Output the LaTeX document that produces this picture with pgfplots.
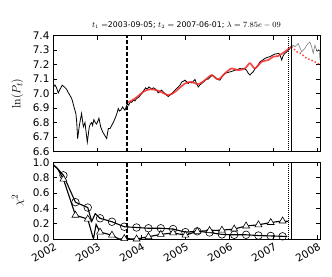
\documentclass[border=0pt]{standalone}
\usepackage[no-math]{fontspec}
\setmainfont{DejaVu Sans}
\usepackage{pgfplots}
\pgfplotsset{compat=1.18}
\definecolor{fitred}{RGB}{245,40,40}
\pgfplotsset{
  mystyle/.style={
    scale only axis, width=267bp,
    xmin=2002, xmax=2008.07,
    xtick={2002,2003,2004,2005,2006,2007,2008},
    tick align=inside, major tick length=4bp,
    axis line style={line width=0.8bp},
    every tick/.style={black, line width=0.6bp},
    tick label style={font=\fontsize{10.5}{12}\selectfont},
    /pgf/number format/assume math mode=true,
    clip=true,
  }
}
\begin{document}
\begin{tikzpicture}
\path[use as bounding box] (0bp,0bp) rectangle (332bp,-277bp);
% ---------------- top axis
\begin{axis}[mystyle,
  at={(53bp,-151.5bp)}, anchor=south west, height=115.8bp,
  ymin=6.6, ymax=7.4,
  ytick={6.6,6.7,6.8,6.9,7.0,7.1,7.2,7.3,7.4},
  yticklabels={6.6,6.7,6.8,6.9,7.0,7.1,7.2,7.3,7.4},
  xticklabels={},
  ylabel={$\ln(P_t)$},
  ylabel style={at={(axis description cs:-0.133,0.5)}, anchor=center, font=\fontsize{12.5}{14}\selectfont},
  title={$t_1=$2003-09-05; $t_2=$ 2007-06-01; $\lambda=7.85e-09$},
  title style={font=\fontsize{7.8}{9}\selectfont, yshift=-2bp},
]
% observed log price (black)
\addplot[black, line width=0.8bp] coordinates {
(2002.00,7.04)(2002.045,7.06)(2002.08,7.04)(2002.12,7.005)(2002.16,7.03)(2002.21,7.058)(2002.26,7.045)(2002.31,7.03)(2002.34,7.01)
(2002.37,6.996)(2002.425,6.966)(2002.45,6.94)(2002.477,6.908)(2002.52,6.862)(2002.54,6.80)(2002.56,6.689)(2002.60,6.781)
(2002.65,6.862)(2002.69,6.77)(2002.727,6.80)(2002.75,6.74)(2002.78,6.665)(2002.825,6.77)(2002.85,6.79)(2002.88,6.80)(2002.90,6.78)
(2002.93,6.82)(2002.96,6.80)(2002.99,6.79)(2003.02,6.81)(2003.045,6.83)(2003.084,6.77)(2003.13,6.735)(2003.18,6.71)(2003.22,6.69)
(2003.257,6.758)(2003.30,6.76)(2003.334,6.78)(2003.37,6.80)(2003.41,6.828)(2003.45,6.86)(2003.484,6.897)(2003.51,6.88)(2003.54,6.885)
(2003.584,6.908)(2003.61,6.895)(2003.636,6.885)(2003.69,6.93)(2003.72,6.92)(2003.76,6.945)(2003.79,6.94)(2003.83,6.955)(2003.864,6.95)
(2003.90,6.966)(2003.95,6.975)(2004.016,7.0)(2004.06,7.02)(2004.107,7.04)(2004.14,7.03)(2004.18,7.046)(2004.21,7.04)(2004.243,7.03)
(2004.28,7.04)(2004.318,7.035)(2004.36,7.02)(2004.393,7.005)(2004.43,7.015)(2004.47,7.024)(2004.51,7.01)(2004.545,7.0)(2004.58,6.99)
(2004.62,6.98)(2004.66,6.99)(2004.698,7.0)(2004.73,7.01)(2004.773,7.024)(2004.81,7.035)(2004.848,7.046)(2004.89,7.06)(2004.925,7.08)
(2004.96,7.085)(2005.0,7.093)(2005.04,7.08)(2005.075,7.07)(2005.11,7.08)(2005.152,7.074)(2005.19,7.085)(2005.227,7.098)(2005.26,7.07)
(2005.302,7.046)(2005.34,7.06)(2005.38,7.07)(2005.42,7.08)(2005.455,7.09)(2005.49,7.10)(2005.53,7.10)(2005.575,7.115)(2005.62,7.128)
(2005.65,7.12)(2005.682,7.11)(2005.74,7.10)(2005.795,7.093)(2005.85,7.12)(2005.91,7.14)(2005.96,7.145)(2006.023,7.15)(2006.08,7.155)
(2006.136,7.162)(2006.19,7.165)(2006.25,7.174)(2006.29,7.17)(2006.325,7.174)(2006.36,7.17)(2006.40,7.162)(2006.44,7.14)(2006.477,7.128)
(2006.51,7.14)(2006.55,7.15)(2006.59,7.17)(2006.63,7.185)(2006.67,7.20)(2006.705,7.22)(2006.76,7.23)(2006.818,7.243)(2006.87,7.25)
(2006.93,7.255)(2006.99,7.265)(2007.045,7.273)(2007.09,7.275)(2007.136,7.278)(2007.17,7.26)(2007.20,7.232)(2007.23,7.26)(2007.257,7.273)
(2007.30,7.285)(2007.348,7.30)(2007.39,7.315)(2007.43,7.324)
};
% after t2 (grey)
\addplot[gray, line width=0.6bp] coordinates {
(2007.43,7.324)(2007.46,7.335)(2007.50,7.324)(2007.54,7.335)(2007.575,7.347)(2007.61,7.32)(2007.652,7.29)(2007.69,7.30)(2007.727,7.313)
(2007.76,7.33)(2007.80,7.347)(2007.84,7.356)(2007.88,7.324)(2007.916,7.278)(2007.955,7.335)(2008.007,7.29)(2008.03,7.305)(2008.052,7.30)(2008.07,7.23)
};
% LPPL fit (red)
\addplot[fitred, line width=1.7bp, opacity=0.85, smooth] coordinates {
(2003.68,6.935)(2003.864,6.966)(2004.05,7.012)(2004.205,7.03)(2004.393,7.02)(2004.62,6.99)(2004.773,7.012)(2005.0,7.07)
(2005.152,7.08)(2005.302,7.065)(2005.455,7.093)(2005.607,7.128)(2005.757,7.098)(2005.91,7.14)(2006.06,7.174)(2006.21,7.162)
(2006.364,7.174)(2006.477,7.21)(2006.59,7.174)(2006.743,7.22)(2006.893,7.232)(2007.007,7.255)(2007.12,7.26)(2007.273,7.29)(2007.42,7.324)
};
\addplot[fitred, line width=1.5bp, dotted, opacity=0.85] coordinates {
(2007.42,7.324)(2007.54,7.29)(2007.62,7.28)(2007.77,7.243)(2007.92,7.225)(2008.07,7.20)
};
% vertical markers
\addplot[black, line width=1.6bp, dash pattern=on 4bp off 2bp] coordinates {(2003.68,6.6)(2003.68,7.4)};
\addplot[black, line width=0.9bp, dash pattern=on 1bp off 1bp] coordinates {(2007.35,6.6)(2007.35,7.4)};
\addplot[black, line width=1.6bp] coordinates {(2007.42,6.6)(2007.42,7.4)};
\end{axis}
% ---------------- bottom axis
\begin{axis}[mystyle,
  at={(53bp,-239bp)}, anchor=south west, height=76.7bp,
  ymin=0, ymax=1,
  ytick={0,0.2,0.4,0.6,0.8,1.0},
  yticklabels={0.0,0.2,0.4,0.6,0.8,1.0},
  xticklabels={2002,2003,2004,2005,2006,2007,2008},
  xticklabel style={rotate=30, anchor=north east, inner sep=1bp, yshift=-2bp},
  ylabel={$\chi^2$},
  ylabel style={at={(axis description cs:-0.131,0.5)}, anchor=center, font=\fontsize{12.5}{14}\selectfont},
]
\addplot[black, line width=1.1bp] coordinates {
(2002.00,0.97)(2002.10,0.92)(2002.237,0.83)(2002.51,0.48)(2002.79,0.41)(2002.88,0.23)(2002.96,0.33)(2003.07,0.27)
(2003.34,0.225)(2003.62,0.16)(2003.90,0.15)(2004.17,0.14)(2004.45,0.14)(2004.73,0.13)(2005.01,0.09)(2005.28,0.10)
(2005.56,0.085)(2005.84,0.06)(2006.12,0.055)(2006.39,0.055)(2006.67,0.045)(2006.95,0.04)(2007.22,0.035)(2007.33,0.035)
};
\addplot[black, line width=1.1bp] coordinates {
(2002.00,0.97)(2002.10,0.92)(2002.237,0.78)(2002.51,0.31)(2002.79,0.26)(2002.92,0.0)(2002.98,0.19)(2003.07,0.09)
(2003.34,0.05)(2003.50,0.0)(2003.62,0.005)(2003.90,0.0)(2004.17,0.03)(2004.45,0.06)(2004.73,0.08)(2005.01,0.05)
(2005.28,0.10)(2005.56,0.11)(2005.84,0.115)(2006.12,0.13)(2006.39,0.17)(2006.67,0.185)(2006.95,0.215)(2007.22,0.235)(2007.35,0.23)
};
\addplot[only marks, mark=o, mark size=3.8bp, mark options={fill=white, draw=black, line width=0.6bp}] coordinates {
(2002.237,0.83)(2002.51,0.48)(2002.79,0.41)(2003.07,0.27)(2003.34,0.225)(2003.62,0.16)(2003.90,0.15)(2004.17,0.14)
(2004.45,0.14)(2004.73,0.13)(2005.01,0.09)(2005.28,0.10)(2005.56,0.085)(2005.84,0.06)(2006.12,0.055)(2006.39,0.055)
(2006.67,0.045)(2006.95,0.04)(2007.22,0.035)
};
\addplot[only marks, mark=triangle*, mark size=4bp, mark options={fill=white, draw=black, line width=0.6bp}] coordinates {
(2002.237,0.78)(2002.51,0.31)(2002.79,0.26)(2003.07,0.09)(2003.34,0.05)(2003.62,0.005)(2003.90,0.0)(2004.17,0.03)
(2004.45,0.06)(2004.73,0.08)(2005.01,0.05)(2005.28,0.10)(2005.56,0.11)(2005.84,0.115)(2006.12,0.13)(2006.39,0.17)
(2006.67,0.185)(2006.95,0.215)(2007.22,0.235)
};
\addplot[black, line width=1.6bp, dash pattern=on 4bp off 2bp] coordinates {(2003.68,0)(2003.68,1)};
\addplot[black, line width=0.9bp, dash pattern=on 1bp off 1bp] coordinates {(2007.35,0)(2007.35,1)};
\addplot[black, line width=1.6bp] coordinates {(2007.42,0)(2007.42,1)};
\end{axis}
\end{tikzpicture}
\end{document}
